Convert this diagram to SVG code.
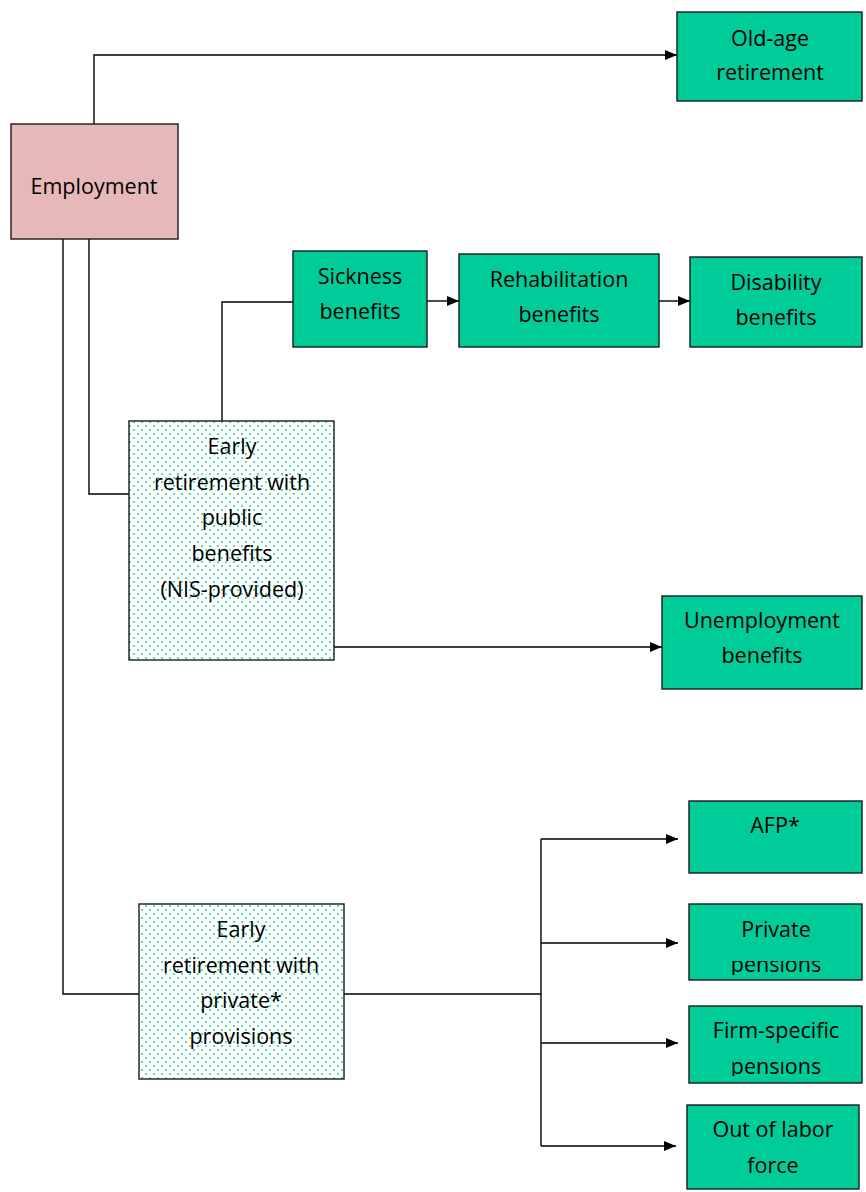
<svg xmlns="http://www.w3.org/2000/svg" width="866" height="1192" viewBox="0 0 866 1192">
<style>
.g{fill:#00CC99;stroke:#1a1a1a;stroke-width:1.4}
.p{fill:#E6B8B7;stroke:#1a1a1a;stroke-width:1.4}
.d{fill:url(#dots);stroke:#1a1a1a;stroke-width:1.4}
text{font-family:"Open Sans","Liberation Sans",sans-serif;font-size:21.5px;fill:#000;text-anchor:middle}
.c{fill:none;stroke:#000;stroke-width:1.4}
</style>
<defs>
<pattern id="dots" width="8" height="8" patternUnits="userSpaceOnUse">
<rect width="8" height="8" fill="#fff"/>
<circle cx="2" cy="2" r="1" fill="#1FD39C"/>
<circle cx="6" cy="6" r="1" fill="#1FD39C"/>
</pattern>
<marker id="ah" viewBox="0 0 12 10" refX="12" refY="5" markerWidth="12" markerHeight="10" markerUnits="userSpaceOnUse" orient="auto">
<path d="M0,0 L12,5 L0,10 z" fill="#000"/>
</marker>
<clipPath id="clipPriv"><rect x="689" y="961" width="173" height="14"/></clipPath>
<clipPath id="clipFirm"><rect x="689" y="1062" width="173" height="14"/></clipPath>
</defs>
<g id="connectors">
<path class="c" d="M94,124 V55 H677" marker-end="url(#ah)"/>
<path class="c" d="M89,239 V494 H129"/>
<path class="c" d="M63,239 V994 H139"/>
<path class="c" d="M222,421 V302 H293"/>
<path class="c" d="M427,301 H459" marker-end="url(#ah)"/>
<path class="c" d="M659,301 H690" marker-end="url(#ah)"/>
<path class="c" d="M334,647 H662" marker-end="url(#ah)"/>
<path class="c" d="M344,994 H541"/>
<path class="c" d="M541,839 V1146"/>
<path class="c" d="M541,839 H678" marker-end="url(#ah)"/>
<path class="c" d="M541,943 H678" marker-end="url(#ah)"/>
<path class="c" d="M541,1043 H678" marker-end="url(#ah)"/>
<path class="c" d="M541,1146 H676" marker-end="url(#ah)"/>
</g>
<g id="old-age">
<rect class="g" x="677" y="12" width="185" height="89"/>
<text x="770" y="46">Old-age</text>
<text x="770" y="80">retirement</text>
</g>
<g id="employment">
<rect class="p" x="11" y="124" width="167" height="115"/>
<text x="94" y="194">Employment</text>
</g>
<g id="sickness">
<rect class="g" x="293" y="251" width="134" height="96"/>
<text x="360" y="284">Sickness</text>
<text x="360" y="319">benefits</text>
</g>
<g id="rehabilitation">
<rect class="g" x="459" y="254" width="200" height="93"/>
<text x="559" y="287">Rehabilitation</text>
<text x="559" y="322">benefits</text>
</g>
<g id="disability">
<rect class="g" x="690" y="257" width="172" height="90"/>
<text x="776" y="290">Disability</text>
<text x="776" y="325">benefits</text>
</g>
<g id="early-public">
<rect class="d" x="129" y="421" width="205" height="239"/>
<text x="232" y="454">Early</text>
<text x="232" y="490">retirement with</text>
<text x="232" y="525">public</text>
<text x="232" y="561">benefits</text>
<text x="232" y="597">(NIS-provided)</text>
</g>
<g id="unemployment">
<rect class="g" x="662" y="596" width="200" height="93"/>
<text x="762" y="628">Unemployment</text>
<text x="762" y="663">benefits</text>
</g>
<g id="early-private">
<rect class="d" x="139" y="904" width="205" height="175"/>
<text x="241" y="937">Early</text>
<text x="241" y="973">retirement with</text>
<text x="241" y="1008">private*</text>
<text x="241" y="1044">provisions</text>
</g>
<g id="afp">
<rect class="g" x="689" y="801" width="173" height="72"/>
<text x="775" y="833">AFP*</text>
</g>
<g id="private-pensions">
<rect class="g" x="689" y="904" width="173" height="76"/>
<text x="776" y="937">Private</text>
<text x="776" y="972" clip-path="url(#clipPriv)">pensions</text>
</g>
<g id="firm-pensions">
<rect class="g" x="689" y="1006" width="173" height="77"/>
<text x="776" y="1038">Firm-specific</text>
<text x="776" y="1074" clip-path="url(#clipFirm)">pensions</text>
</g>
<g id="out-of-labor">
<rect class="g" x="687" y="1105" width="172" height="84"/>
<text x="773" y="1137">Out of labor</text>
<text x="773" y="1173">force</text>
</g>
</svg>
